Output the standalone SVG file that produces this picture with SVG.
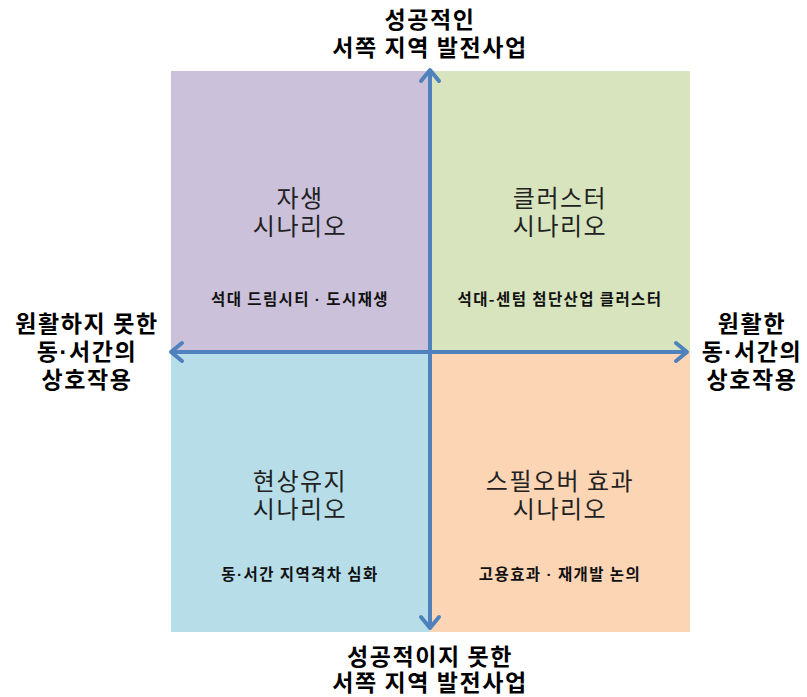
<svg xmlns="http://www.w3.org/2000/svg" width="807" height="697" viewBox="0 0 807 697">
<defs>
<style>
.axis{font-family:"Noto Sans CJK KR","Noto Sans",sans-serif;font-weight:bold;font-size:23px;letter-spacing:1.6px;fill:#000;text-anchor:middle}
.title{font-family:"Noto Sans CJK KR","Noto Sans",sans-serif;font-size:24px;letter-spacing:1.5px;fill:#222;text-anchor:middle}
.sub{font-family:"Noto Sans CJK KR","Noto Sans",sans-serif;font-size:15.5px;letter-spacing:1.4px;font-weight:bold;fill:#111;text-anchor:middle}
.dot{font-family:"Liberation Sans",sans-serif}
.ax{stroke:#4F81BD;stroke-width:4;fill:none}
.head{stroke:#4F81BD;stroke-width:4;fill:none;stroke-linecap:round;stroke-linejoin:round}
</style>
</defs>
<rect width="807" height="697" fill="#fff"/>
<g id="q1"><rect x="171" y="71" width="259" height="281" fill="#CCC1DA"/>
<text class="title" x="300" y="207">자생</text><text class="title" x="300" y="235">시나리오</text>
<text class="sub" x="300" y="305">석대 드림시티 <tspan class="dot">·</tspan> 도시재생</text></g>
<g id="q2"><rect x="430" y="71" width="260" height="281" fill="#D7E4BD"/>
<text class="title" x="560" y="207">클러스터</text><text class="title" x="560" y="235">시나리오</text>
<text class="sub" x="560" y="305">석대-센텀 첨단산업 클러스터</text></g>
<g id="q3"><rect x="171" y="352" width="259" height="280" fill="#B7DEE8"/>
<text class="title" x="300" y="490">현상유지</text><text class="title" x="300" y="518">시나리오</text>
<text class="sub" x="300" y="580">동<tspan class="dot">·</tspan>서간 지역격차 심화</text></g>
<g id="q4"><rect x="430" y="352" width="260" height="280" fill="#FCD5B5"/>
<text class="title" x="560" y="490">스필오버 효과</text><text class="title" x="560" y="518">시나리오</text>
<text class="sub" x="560" y="580">고용효과 <tspan class="dot">·</tspan> 재개발 논의</text></g>
<g id="connectors">
<line class="ax" x1="430" y1="70" x2="430" y2="628"/>
<line class="ax" x1="171" y1="352" x2="687" y2="352"/>
<polyline class="head" points="421,81 430,70 439,81"/>
<polyline class="head" points="421,617 430,628 439,617"/>
<polyline class="head" points="182,343 171,352 182,361"/>
<polyline class="head" points="676,343 687,352 676,361"/>
</g>
<g id="top"><text class="axis" x="430" y="28">성공적인</text><text class="axis" x="430" y="56">서쪽 지역 발전사업</text></g>
<g id="bottom"><text class="axis" x="430" y="665">성공적이지 못한</text><text class="axis" x="430" y="691">서쪽 지역 발전사업</text></g>
<g id="left"><text class="axis" x="87" y="332">원활하지 못한</text><text class="axis" x="87" y="360">동<tspan class="dot">·</tspan>서간의</text><text class="axis" x="87" y="388">상호작용</text></g>
<g id="right"><text class="axis" x="752" y="332">원활한</text><text class="axis" x="752" y="360">동<tspan class="dot">·</tspan>서간의</text><text class="axis" x="752" y="388">상호작용</text></g>
</svg>
